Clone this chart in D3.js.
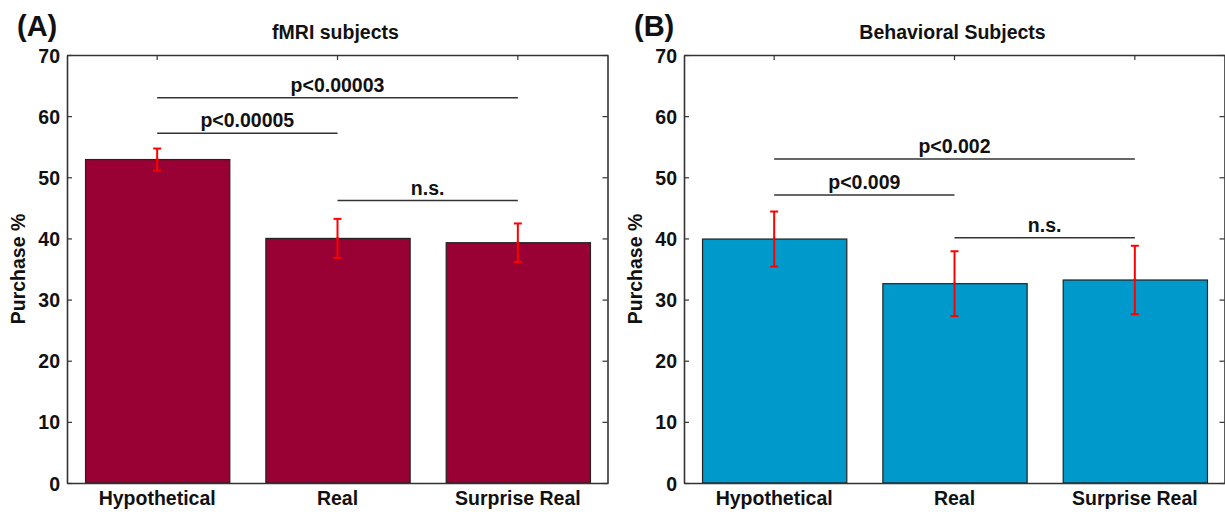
<!DOCTYPE html>
<html>
<head>
<meta charset="utf-8">
<script src="https://cdn.jsdelivr.net/npm/d3@7"></script>
<style>
  html, body { margin: 0; padding: 0; background: #fff; }
  svg { display: block; }
  text { font-family: "Liberation Sans", Arial, Helvetica, sans-serif; fill: #111; }
</style>
</head>
<body>
<svg id="chart" width="1225" height="514"></svg>
<script>
// ---------- data ----------
const categories = ["Hypothetical", "Real", "Surprise Real"];
const yTicks = [0, 10, 20, 30, 40, 50, 60, 70];

const fmriMeans = [52.9, 40.0, 39.3];
const fmriErr   = [1.8, 3.2, 3.15];
const behavMeans = [39.9, 32.6, 33.2];
const behavErr   = [4.5, 5.3, 5.6];

// significance brackets: [from, to, level, label]
const fmriSig = [
  ["Hypothetical", "Surprise Real", 63.0, "p<0.00003"],
  ["Hypothetical", "Real", 57.2, "p<0.00005"],
  ["Real", "Surprise Real", 46.2, "n.s."]
];
const behavSig = [
  ["Hypothetical", "Surprise Real", 53.0, "p<0.002"],
  ["Hypothetical", "Real", 47.1, "p<0.009"],
  ["Real", "Surprise Real", 40.1, "n.s."]
];

const panels = [
  { tag: "(A)", title: "fMRI subjects", means: fmriMeans, err: fmriErr, sig: fmriSig,
    color: "#990033", left: 67, right: 608 },
  { tag: "(B)", title: "Behavioral Subjects", means: behavMeans, err: behavErr, sig: behavSig,
    color: "#0099cc", left: 684, right: 1225 }
];

const plotTop = 55, plotBottom = 483;
const fs = 19.5;
const svg = d3.select("#chart");

panels.forEach(p => {
  const x = d3.scaleBand().domain(categories)
    .range([p.left, p.right]).paddingInner(0.2).paddingOuter(0.1);
  const cx = c => x(c) + x.bandwidth() / 2;
  const y = d3.scaleLinear().domain([0, 70]).range([plotBottom, plotTop]);
  const g = svg.append("g");

  // bars
  g.selectAll("rect.bar").data(categories).join("rect")
    .attr("class", "bar")
    .attr("x", d => x(d) + 0.5)
    .attr("y", (d, i) => y(p.means[i]))
    .attr("width", x.bandwidth())
    .attr("height", (d, i) => y(0) - y(p.means[i]))
    .attr("fill", p.color)
    .attr("stroke", "#222")
    .attr("stroke-width", 1.2);

  // axes (box)
  const axColor = "#333";
  const left = g.append("g").attr("transform", `translate(${p.left},0)`)
    .call(d3.axisLeft(y).tickValues(yTicks).tickSizeInner(-5).tickSizeOuter(0).tickPadding(7));
  const right = g.append("g").attr("transform", `translate(${p.right - 0.5},0)`)
    .call(d3.axisRight(y).tickValues(yTicks).tickSizeInner(-5).tickSizeOuter(0).tickFormat(""));
  const topAx = g.append("g").attr("transform", `translate(0,${plotTop})`)
    .call(d3.axisTop(x).tickSizeInner(-5).tickSizeOuter(0).tickFormat(""));
  const botAx = g.append("g").attr("transform", `translate(0,${plotBottom})`)
    .call(d3.axisBottom(x).tickSizeInner(0).tickSizeOuter(0).tickPadding(8));
  [left, right, topAx, botAx].forEach(a => {
    a.select(".domain").attr("stroke", axColor).attr("stroke-width", 1.6);
    a.selectAll(".tick line").attr("stroke", axColor).attr("stroke-width", 1.2);
    a.selectAll("text").attr("font-size", fs).attr("font-weight", "bold")
      .attr("font-family", "Liberation Sans, Arial, sans-serif").attr("fill", "#111");
  });
  left.selectAll(".tick text").attr("dy", "0.36em");
  botAx.selectAll(".tick text").attr("dy", "0.72em");

  // error bars
  const eb = g.selectAll("g.err").data(categories).join("g").attr("class", "err");
  eb.append("line")
    .attr("x1", d => cx(d)).attr("x2", d => cx(d))
    .attr("y1", (d, i) => y(p.means[i] + p.err[i]))
    .attr("y2", (d, i) => y(p.means[i] - p.err[i]))
    .attr("stroke", "#ff0000").attr("stroke-width", 2);
  [1, -1].forEach(s => {
    eb.append("line")
      .attr("x1", d => cx(d) - 4).attr("x2", d => cx(d) + 4)
      .attr("y1", (d, i) => y(p.means[i] + s * p.err[i]))
      .attr("y2", (d, i) => y(p.means[i] + s * p.err[i]))
      .attr("stroke", "#ff0000").attr("stroke-width", 2);
  });
  eb.append("circle")
    .attr("cx", d => cx(d)).attr("cy", (d, i) => y(p.means[i]))
    .attr("r", 1.5).attr("fill", "#ff0000");

  // significance brackets
  const sg = g.selectAll("g.sig").data(p.sig).join("g").attr("class", "sig");
  sg.append("line")
    .attr("x1", d => cx(d[0])).attr("x2", d => cx(d[1]))
    .attr("y1", d => y(d[2])).attr("y2", d => y(d[2]))
    .attr("stroke", "#333").attr("stroke-width", 1.5);
  sg.append("text")
    .attr("x", d => (cx(d[0]) + cx(d[1])) / 2)
    .attr("y", d => y(d[2]) - 6)
    .attr("text-anchor", "middle")
    .attr("font-size", fs).attr("font-weight", "bold")
    .text(d => d[3]);

  // title
  g.append("text")
    .attr("x", (p.left + p.right) / 2 - 2).attr("y", 39)
    .attr("text-anchor", "middle")
    .attr("font-size", fs).attr("font-weight", "bold")
    .text(p.title);

  // panel tag
  g.append("text")
    .attr("x", p.left - 50).attr("y", 36)
    .attr("font-size", 29).attr("font-weight", "bold")
    .text(p.tag);

  // y-axis label
  g.append("text")
    .attr("transform", `translate(${p.left - 42},${(plotTop + plotBottom) / 2}) rotate(-90)`)
    .attr("text-anchor", "middle")
    .attr("font-size", fs).attr("font-weight", "bold")
    .text("Purchase %");
});
</script>
</body>
</html>
